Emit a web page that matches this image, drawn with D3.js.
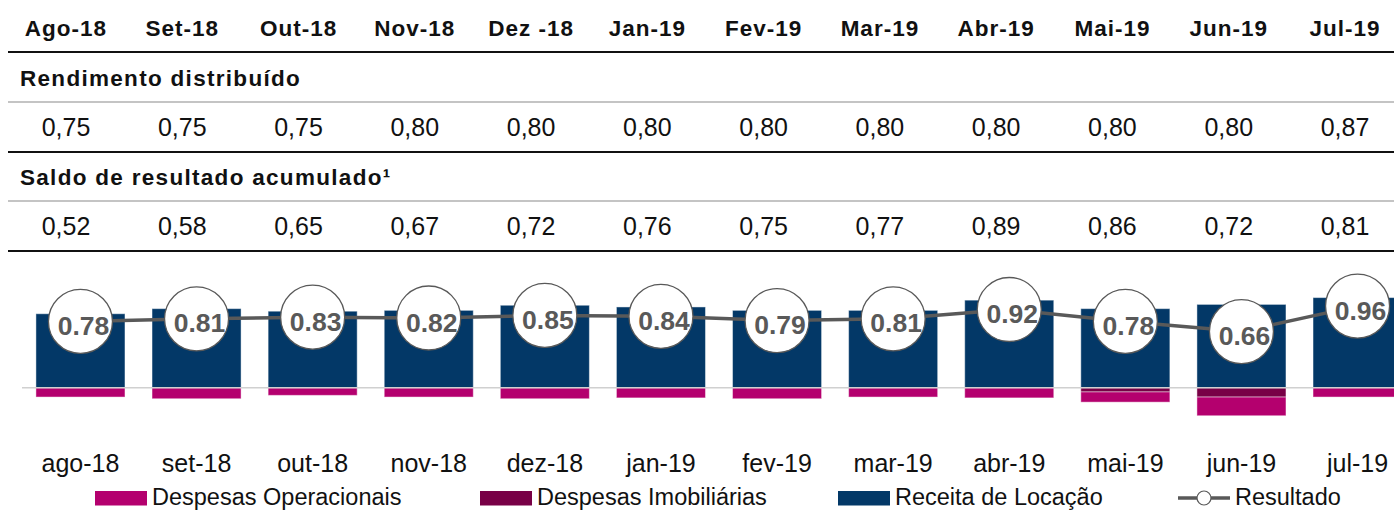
<!DOCTYPE html>
<html>
<head>
<meta charset="utf-8">
<script src="https://cdn.jsdelivr.net/npm/d3@7"></script>
<style>
  html, body { margin: 0; padding: 0; background: #fff; }
  svg { display: block; }
  text { font-family: "Liberation Sans", Arial, Helvetica, sans-serif; }
</style>
</head>
<body>
<svg id="chart" width="1394" height="510"></svg>
<script>
// ---- data ----
const headerMonths = ["Ago-18","Set-18","Out-18","Nov-18","Dez -18","Jan-19","Fev-19","Mar-19","Abr-19","Mai-19","Jun-19","Jul-19"];
const axisMonths = ["ago-18","set-18","out-18","nov-18","dez-18","jan-19","fev-19","mar-19","abr-19","mai-19","jun-19","jul-19"];
const rendimento = ["0,75","0,75","0,75","0,80","0,80","0,80","0,80","0,80","0,80","0,80","0,80","0,87"];
const saldo = ["0,52","0,58","0,65","0,67","0,72","0,76","0,75","0,77","0,89","0,86","0,72","0,81"];
const receita = [0.87, 0.93, 0.90, 0.91, 0.97, 0.95, 0.91, 0.91, 1.03, 0.93, 0.98, 1.06];
const despOperacionais = [-0.11, -0.13, -0.09, -0.11, -0.13, -0.12, -0.13, -0.11, -0.12, -0.12, -0.22, -0.11];
const despImobiliarias = [0, 0, 0, 0, 0, 0, 0, 0, 0, -0.05, -0.11, 0];
const resultado = [0.78, 0.81, 0.83, 0.82, 0.85, 0.84, 0.79, 0.81, 0.92, 0.78, 0.66, 0.96];
const rowTitles = ["Rendimento distribuído", "Saldo de resultado acumulado\u00B9"];
const legendLabels = ["Despesas Operacionais", "Despesas Imobiliárias", "Receita de Locação", "Resultado"];

// ---- styles ----
const C_OP = "#b4006e", C_IMOB = "#780046", C_REC = "#033867", C_LINE = "#595959";

const svg = d3.select("#chart");

// ---- table part ----
const colX = d3.scalePoint().domain(d3.range(12)).range([66, 1345]);

svg.append("g").selectAll("text").data(headerMonths).join("text")
  .attr("x", (d, i) => colX(i)).attr("y", 36)
  .attr("text-anchor", "middle")
  .attr("font-size", 22.5).attr("font-weight", "bold").attr("letter-spacing", 1)
  .attr("fill", "#111").text(d => d);

const hLines = [
  {y: 52, c: "#111"}, {y: 102, c: "#c4c4c4"}, {y: 152, c: "#111"}, {y: 201, c: "#c4c4c4"}, {y: 251, c: "#111"}
];
svg.append("g").selectAll("line").data(hLines).join("line")
  .attr("x1", 8).attr("x2", 1394).attr("y1", d => d.y).attr("y2", d => d.y)
  .attr("stroke", d => d.c).attr("stroke-width", 2.2);

svg.append("g").selectAll("text").data(rowTitles).join("text")
  .attr("x", 20).attr("y", (d, i) => 86 + i * 99)
  .attr("font-size", 22.5).attr("font-weight", "bold").attr("letter-spacing", 1.3)
  .attr("fill", "#111").text(d => d);

[rendimento, saldo].forEach((row, r) => {
  svg.append("g").selectAll("text").data(row).join("text")
    .attr("x", (d, i) => colX(i)).attr("y", 136 + r * 99)
    .attr("text-anchor", "middle")
    .attr("font-size", 25).attr("fill", "#111").text(d => d);
});

// ---- chart part ----
const x = d3.scaleBand().domain(axisMonths).range([22.4, 1415.6]).paddingInner(0.233).paddingOuter(0.1165);
const y = d3.scaleLinear().domain([-0.4, 1.2]).range([421.7, 285.7]);

const gBars = svg.append("g");
gBars.selectAll("rect.rec").data(receita).join("rect").attr("class", "rec")
  .attr("x", (d, i) => x(axisMonths[i])).attr("width", x.bandwidth())
  .attr("y", d => y(d)).attr("height", d => y(0) - y(d))
  .attr("fill", C_REC).attr("stroke", "rgba(255,255,255,0.45)").attr("stroke-width", 1);
gBars.selectAll("rect.imob").data(despImobiliarias).join("rect").attr("class", "imob")
  .attr("x", (d, i) => x(axisMonths[i])).attr("width", x.bandwidth())
  .attr("y", y(0)).attr("height", d => y(d) - y(0))
  .attr("fill", C_IMOB).attr("stroke", d => d < 0 ? "rgba(255,255,255,0.45)" : "none").attr("stroke-width", 1);
gBars.selectAll("rect.op").data(despOperacionais).join("rect").attr("class", "op")
  .attr("x", (d, i) => x(axisMonths[i])).attr("width", x.bandwidth())
  .attr("y", (d, i) => y(despImobiliarias[i]))
  .attr("height", (d, i) => y(d + despImobiliarias[i]) - y(despImobiliarias[i]))
  .attr("fill", C_OP).attr("stroke", "rgba(255,255,255,0.45)").attr("stroke-width", 1);

svg.append("line").attr("x1", 22).attr("x2", 1394).attr("y1", y(0)).attr("y2", y(0))
  .attr("stroke", "#d0d0d0").attr("stroke-width", 1.6);

const cx = (d, i) => x(axisMonths[i]) + x.bandwidth() / 2;
const line = d3.line().x((d, i) => cx(d, i)).y(d => y(d));
svg.append("path").datum(resultado).attr("d", line)
  .attr("fill", "none").attr("stroke", C_LINE).attr("stroke-width", 3.5);

const gPts = svg.append("g");
gPts.selectAll("circle").data(resultado).join("circle")
  .attr("cx", cx).attr("cy", d => y(d)).attr("r", 32)
  .attr("fill", "#fff").attr("stroke", C_LINE).attr("stroke-width", 1.3);
gPts.selectAll("text").data(resultado).join("text")
  .attr("x", (d, i) => cx(d, i) + 3).attr("y", d => y(d) + 13.5)
  .attr("text-anchor", "middle").attr("font-size", 26.5).attr("font-weight", "bold")
  .attr("fill", C_LINE).text(d => d.toFixed(2));

const xAxis = d3.axisBottom(x).tickSize(0).tickPadding(0);
const gAx = svg.append("g").attr("transform", "translate(0,472)").call(xAxis);
gAx.select(".domain").remove();
gAx.selectAll("text").attr("font-size", 25).attr("fill", "#111")
  .attr("dy", 0).attr("font-family", "'Liberation Sans', Arial, sans-serif");

const legendX = [95, 480, 838, 1178];
const legendColors = [C_OP, C_IMOB, C_REC, null];
const gLeg = svg.append("g");
legendLabels.forEach((lab, i) => {
  const lx = legendX[i];
  if (legendColors[i]) {
    gLeg.append("rect").attr("x", lx).attr("y", 491).attr("width", 52).attr("height", 14.5)
      .attr("fill", legendColors[i]);
  } else {
    gLeg.append("line").attr("x1", lx).attr("x2", lx + 52).attr("y1", 498).attr("y2", 498)
      .attr("stroke", C_LINE).attr("stroke-width", 3.5);
    gLeg.append("circle").attr("cx", lx + 26).attr("cy", 498).attr("r", 7)
      .attr("fill", "#fff").attr("stroke", C_LINE).attr("stroke-width", 1.2);
  }
  gLeg.append("text").attr("x", lx + 57).attr("y", 504.5)
    .attr("font-size", 23.5).attr("fill", "#111").text(lab);
});
</script>
</body>
</html>
